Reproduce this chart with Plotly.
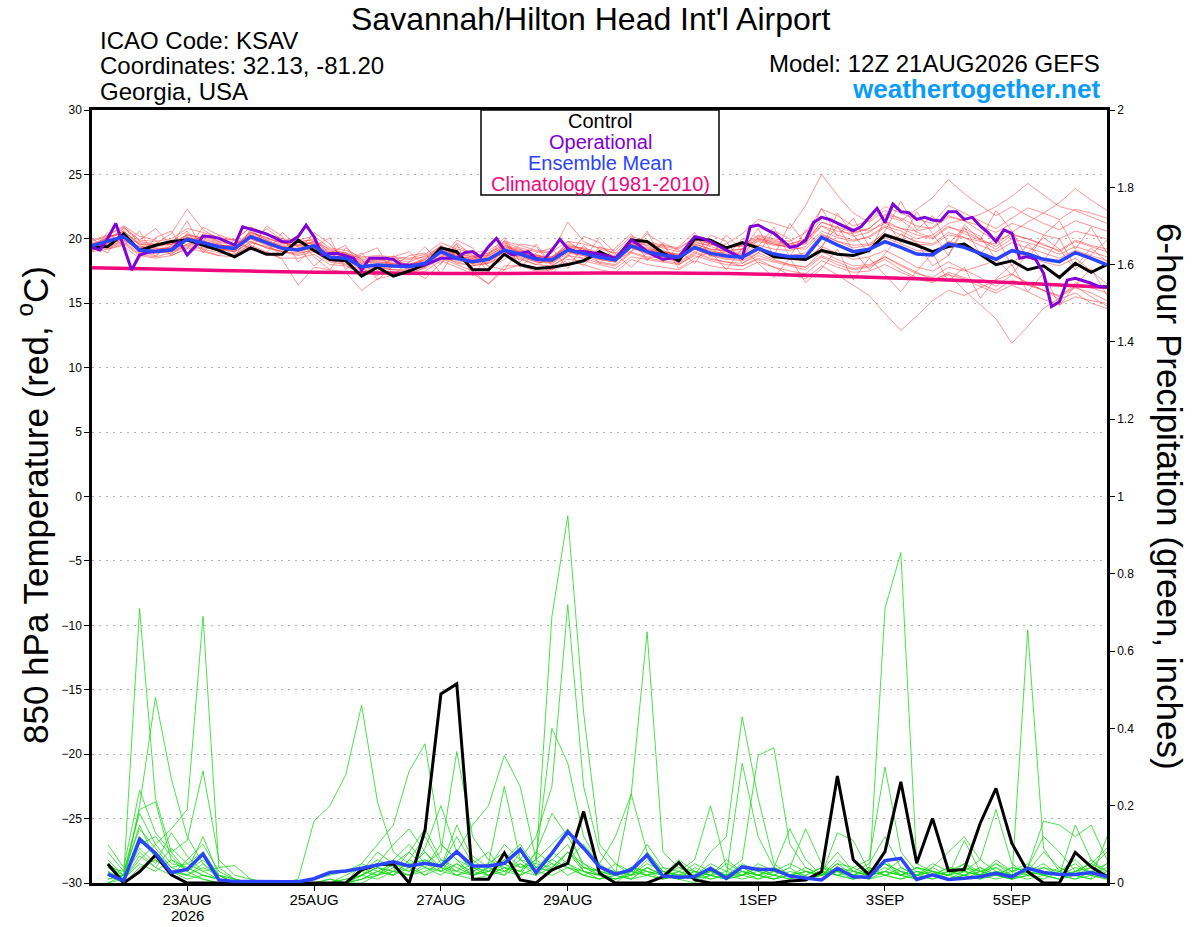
import pandas as pd
import plotly.graph_objects as go

# time axes: GEFS 6-hourly, operational GFS 3-hourly
times6 = pd.date_range("2026-08-21 12:00", periods=65, freq="6h")
times3 = pd.date_range("2026-08-21 12:00", periods=129, freq="3h")
times_clim = times6[::4]

tick_vals = ["2026-08-23", "2026-08-25", "2026-08-27", "2026-08-29",
             "2026-09-01", "2026-09-03", "2026-09-05"]
tick_text = ["23AUG", "25AUG", "27AUG", "29AUG", "1SEP", "3SEP", "5SEP"]
year_label = "2026"

# 850 hPa temperature (C)
control_t = [19.3, 19.4, 20.4, 19.1, 19.5, 19.8, 19.9, 19.5, 19.1, 18.6, 19.3, 18.8, 18.8,
             19.9, 19.1, 18.4, 18.3, 17.1, 17.8, 17.1, 17.5, 18.0, 19.3, 19.0, 17.6, 17.6,
             18.8, 18.0, 17.7, 17.8, 18.0, 18.3, 19.0, 18.4, 19.9, 19.8, 18.9, 18.3, 20.0,
             19.9, 19.3, 19.7, 19.3, 18.6, 18.5, 18.4, 19.1, 18.8, 18.7, 19.1, 20.3, 19.9,
             19.5, 19.0, 19.4, 19.6, 18.8, 18.0, 18.3, 17.6, 17.9, 17.0, 18.1, 17.4, 18.0]

operational_t = [19.34, 19.13, 20.04, 21.20, 19.39, 17.58, 18.75, 18.93, 19.01, 19.06, 19.13,
                 19.78, 18.75, 19.39, 20.22, 20.17, 20.04, 19.78, 19.52, 20.94, 20.74, 20.56,
                 20.38, 20.09, 19.78, 19.78, 20.17, 21.07, 20.17, 18.75, 18.87, 18.87, 18.67,
                 18.49, 17.58, 18.49, 18.49, 18.49, 18.41, 17.97, 17.97, 17.97, 17.97, 18.23,
                 18.49, 18.49, 18.49, 18.93, 19.01, 18.57, 19.39,
                 20.04, 19.13, 18.75, 18.87, 19.01, 18.49, 18.36, 19.13, 19.96, 19.26, 19.01,
                 19.01, 18.93, 18.82, 18.67, 18.49, 19.13, 19.91, 19.52, 19.01, 18.67, 18.41,
                 18.49, 18.57, 19.39, 20.17, 20.04, 19.78, 19.44, 19.13, 18.82, 18.49, 20.94,
                 21.07, 20.74, 20.43, 19.91,
                 19.34, 19.45, 19.91, 21.26, 21.67, 21.51, 21.20, 20.95, 20.63, 20.95, 21.67,
                 22.37, 21.26, 22.70, 22.11, 22.03, 21.51, 21.67, 21.46, 21.39, 22.11, 22.11,
                 21.51, 21.67, 21.00, 20.48, 19.78, 20.69, 20.43, 18.49, 18.62, 18.41, 17.32,
                 14.74, 15.12, 16.81, 16.94, 16.75, 16.55, 16.29, 16.29]

mean_t = [19.45, 19.78, 20.17, 19.13, 19.01, 19.13, 19.96, 19.70, 19.39, 19.26, 20.17, 19.70, 19.26,
          19.13, 19.45, 18.57, 18.49, 17.84, 17.97, 17.89, 17.84, 18.10, 19.01, 18.49, 18.23, 18.41,
          19.13, 18.82, 18.41, 18.36, 19.13, 18.87, 18.57, 18.36, 19.45, 19.01, 18.75, 18.57, 19.34,
          18.87, 18.67, 18.57, 19.26, 18.82, 18.62, 18.62, 20.12, 19.52, 19.00, 19.19, 19.78, 19.34,
          18.82, 18.75, 19.60, 19.34, 18.88, 18.41, 19.08, 18.82, 18.41, 18.23, 18.93, 18.49, 17.97]

climatology_t = [17.75, 17.65, 17.55, 17.45, 17.38, 17.32, 17.30, 17.32, 17.35,
                 17.35, 17.30, 17.20, 17.05, 16.90, 16.70, 16.48, 16.25]

members_t = [
    [19.2, 19.9, 20.6, 19.5, 19.0, 19.3, 20.4, 20.0, 19.6, 19.0, 20.5, 20.1, 19.6,
     19.8, 19.9, 18.9, 18.2, 17.5, 17.6, 17.4, 17.2, 17.8, 19.3, 18.8, 18.0, 18.2,
     19.0, 18.5, 18.0, 18.6, 19.6, 19.2, 18.7, 18.2, 19.7, 19.5, 19.1, 18.6, 19.8,
     19.4, 19.0, 18.8, 19.9, 19.6, 19.4, 19.8, 21.3, 20.8, 20.2, 20.5, 21.4, 20.8,
     20.3, 20.0, 20.9, 20.6, 20.0, 19.4, 20.3, 20.0, 19.6, 19.0, 19.8, 19.4, 19.0],
    [19.6, 19.5, 20.0, 19.4, 19.3, 18.8, 19.6, 19.9, 19.0, 19.5, 19.8, 19.3, 19.0,
     18.8, 19.2, 18.8, 18.8, 18.1, 18.4, 18.3, 18.0, 18.5, 19.2, 18.9, 18.6, 18.9,
     19.5, 19.2, 18.7, 18.5, 19.4, 19.3, 18.9, 18.7, 19.8, 19.6, 19.3, 19.0, 19.9,
     19.6, 19.3, 19.5, 20.3, 20.0, 19.8, 20.5, 22.3, 21.8, 21.0, 21.4, 22.5, 22.0,
     21.5, 21.2, 22.6, 22.0, 21.4, 20.8, 21.6, 22.4, 22.0, 21.5, 22.3, 22.0, 21.6],
    [19.4, 20.1, 20.5, 19.0, 18.7, 19.5, 20.2, 19.5, 19.1, 19.3, 20.6, 19.9, 19.4,
     19.5, 19.7, 18.7, 18.9, 18.2, 18.5, 18.0, 17.9, 18.4, 19.5, 18.6, 18.5, 18.8,
     19.6, 18.9, 18.8, 18.3, 19.8, 19.0, 18.9, 18.5, 20.1, 19.4, 19.0, 18.8, 19.7,
     19.5, 19.6, 20.4, 21.5, 21.2, 20.8, 22.6, 25.0, 23.4, 22.0, 21.3, 22.2, 21.5,
     20.5, 20.1, 21.0, 20.4, 19.9, 19.2, 20.0, 19.7, 19.3, 18.8, 19.4, 19.0, 18.6],
    [19.7, 19.4, 19.8, 18.9, 19.2, 19.0, 19.5, 19.3, 19.2, 19.0, 19.7, 19.4, 19.0,
     18.7, 19.0, 18.2, 18.0, 17.2, 17.8, 17.6, 17.5, 17.9, 18.6, 18.2, 17.9, 18.1,
     18.8, 18.6, 18.2, 18.1, 18.9, 18.7, 18.2, 18.0, 19.0, 18.6, 18.5, 18.2, 19.0,
     18.5, 18.2, 17.9, 18.4, 17.8, 17.2, 16.9, 17.9, 17.2, 16.4, 15.6, 14.2, 12.9,
     14.0, 15.2, 16.0, 15.6, 16.2, 16.8, 17.3, 16.5, 16.0, 15.5, 16.2, 15.8, 15.2],
    [19.3, 19.6, 20.3, 19.2, 19.1, 19.4, 20.1, 19.8, 19.5, 19.4, 20.3, 19.8, 19.3,
     19.0, 19.3, 18.4, 18.3, 17.6, 17.8, 17.8, 17.9, 18.2, 18.9, 18.3, 18.1, 18.3,
     18.9, 18.7, 18.3, 18.2, 19.0, 18.8, 18.4, 18.2, 19.3, 18.8, 18.6, 18.4, 19.2,
     18.7, 18.4, 18.3, 18.9, 18.4, 18.0, 17.8, 19.0, 18.4, 17.9, 18.0, 18.6, 18.0,
     17.4, 16.8, 17.3, 16.0, 14.9, 13.8, 11.9, 13.2, 14.6, 15.4, 16.6, 16.2, 15.8],
    [19.5, 19.9, 19.9, 19.3, 19.4, 19.6, 20.0, 19.6, 19.6, 19.2, 20.0, 19.5, 19.2,
     19.3, 19.6, 18.9, 18.6, 18.0, 17.9, 18.1, 17.6, 18.0, 18.8, 18.4, 18.4, 18.6,
     19.3, 19.0, 18.6, 18.6, 19.3, 19.0, 18.6, 18.5, 19.6, 19.2, 19.0, 18.7, 19.5,
     19.0, 18.9, 19.0, 19.8, 19.5, 19.4, 19.6, 21.0, 20.6, 20.4, 20.8, 21.8, 21.4,
     22.3, 23.2, 24.6, 23.5, 22.6, 21.8, 22.5, 21.8, 21.2, 20.7, 21.4, 21.0, 20.6],
    [19.1, 19.7, 20.2, 19.6, 19.3, 19.2, 19.8, 20.2, 19.8, 19.6, 20.2, 19.9, 19.5,
     19.6, 19.8, 19.0, 18.8, 18.3, 18.2, 18.2, 18.0, 18.3, 19.0, 18.7, 18.4, 18.5,
     19.2, 18.8, 18.5, 18.5, 19.2, 18.9, 18.7, 18.4, 19.5, 19.1, 18.9, 18.7, 19.4,
     19.1, 18.8, 18.8, 19.5, 19.2, 19.1, 19.4, 20.6, 20.1, 19.8, 20.2, 21.0, 20.6,
     20.0, 20.3, 21.2, 21.5, 21.9, 22.5, 23.3, 24.3, 23.4, 22.5, 22.2, 21.7, 21.2],
    [19.8, 20.2, 20.4, 19.7, 19.5, 19.7, 20.3, 19.9, 19.4, 19.5, 20.4, 20.0, 19.7,
     19.4, 19.8, 19.2, 18.9, 18.4, 18.3, 18.5, 18.4, 18.6, 19.3, 18.8, 18.6, 18.7,
     19.4, 19.0, 18.6, 18.4, 19.5, 19.2, 18.8, 18.6, 19.7, 19.2, 18.9, 18.6, 19.6,
     19.2, 19.1, 19.2, 20.0, 19.6, 19.3, 19.2, 20.4, 19.8, 19.5, 19.6, 20.4, 20.0,
     19.6, 19.5, 20.3, 20.1, 19.8, 19.6, 20.5, 21.3, 22.0, 22.8, 23.9, 23.0, 22.2],
    [19.5, 19.3, 19.7, 18.8, 18.6, 18.9, 19.4, 19.2, 18.9, 18.8, 19.5, 19.0, 18.4,
     16.4, 17.8, 17.6, 17.4, 16.0, 16.9, 17.2, 17.4, 17.7, 18.5, 18.0, 17.5, 16.5,
     17.6, 18.0, 17.8, 17.6, 18.4, 18.3, 18.0, 17.7, 18.6, 18.4, 18.2, 18.0, 18.7,
     18.3, 18.0, 17.9, 18.5, 18.2, 17.9, 17.6, 18.6, 18.0, 17.6, 17.8, 18.4, 17.6,
     17.0, 16.7, 17.4, 17.0, 16.5, 16.0, 16.8, 16.4, 16.0, 15.6, 16.3, 15.5, 14.8],
    [19.6, 20.0, 20.8, 19.8, 19.6, 20.4, 22.3, 20.7, 20.0, 19.9, 20.9, 20.4, 19.8,
     19.7, 20.0, 19.1, 18.9, 18.5, 18.6, 18.4, 18.2, 18.7, 19.4, 19.0, 18.7, 18.9,
     19.7, 19.3, 19.0, 18.9, 21.3, 19.8, 19.2, 18.9, 20.0, 19.7, 19.4, 19.2, 20.1,
     19.6, 19.4, 19.5, 20.2, 19.9, 19.6, 19.9, 21.0, 20.3, 19.9, 20.1, 20.9, 20.3,
     19.8, 19.6, 20.5, 20.1, 19.5, 19.0, 19.7, 19.3, 18.9, 18.5, 19.1, 18.7, 18.3],
    [19.2, 19.6, 20.1, 19.0, 18.9, 19.1, 19.9, 19.6, 19.3, 19.1, 20.0, 19.6, 19.1,
     19.1, 19.3, 18.5, 18.4, 17.7, 17.9, 17.9, 17.8, 18.0, 18.9, 18.4, 18.1, 18.4,
     19.0, 18.7, 18.2, 18.2, 19.0, 18.7, 18.4, 18.2, 19.3, 18.9, 18.6, 18.4, 19.2,
     18.7, 18.5, 18.4, 19.1, 18.6, 18.4, 18.3, 19.4, 18.9, 18.4, 18.6, 19.1, 18.5,
     17.8, 17.5, 18.2, 17.6, 17.0, 16.3, 17.2, 16.6, 16.0, 15.3, 15.8, 15.0, 14.6],
    [19.4, 19.8, 20.3, 19.3, 19.2, 19.3, 20.1, 19.8, 19.5, 19.3, 20.3, 19.8, 19.4,
     19.2, 19.6, 18.6, 18.6, 17.9, 18.1, 18.0, 17.9, 18.2, 19.1, 18.6, 18.3, 18.5,
     19.1, 18.9, 18.5, 18.4, 19.1, 18.9, 18.6, 18.4, 19.4, 19.0, 18.8, 18.6, 19.3,
     18.9, 18.7, 18.6, 19.3, 18.9, 18.7, 18.9, 20.3, 19.8, 19.3, 19.5, 20.1, 19.6,
     19.1, 19.0, 19.8, 19.5, 19.0, 18.5, 19.2, 18.9, 18.4, 18.2, 18.9, 18.4, 17.9],
    [19.0, 19.2, 19.6, 18.7, 18.5, 18.7, 19.3, 19.0, 18.7, 18.6, 19.4, 18.9, 18.5,
     18.5, 18.8, 18.0, 17.9, 17.3, 17.4, 17.3, 17.2, 17.5, 18.3, 17.8, 17.3, 16.5,
     17.9, 17.9, 17.5, 17.6, 18.2, 18.0, 17.6, 17.4, 18.4, 18.0, 17.8, 17.6, 18.3,
     17.9, 17.7, 17.6, 18.2, 17.8, 17.5, 17.3, 18.3, 17.8, 17.4, 17.5, 18.0, 17.4,
     16.9, 16.6, 17.2, 16.9, 16.3, 15.8, 16.4, 15.9, 15.3, 14.9, 15.5, 15.2, 15.0],
    [19.9, 20.3, 20.9, 19.9, 19.8, 20.0, 20.8, 20.5, 20.1, 19.9, 20.9, 20.4, 20.0,
     19.9, 20.2, 19.3, 19.1, 18.6, 18.7, 18.6, 18.5, 18.8, 19.7, 19.2, 18.9, 19.1,
     19.8, 19.5, 19.1, 19.0, 19.8, 19.6, 19.3, 19.1, 20.2, 19.8, 19.5, 19.3, 20.1,
     19.6, 19.4, 19.4, 20.1, 19.7, 19.5, 19.7, 21.3, 20.9, 20.5, 20.8, 21.9, 21.6,
     21.0, 20.8, 21.7, 21.4, 21.0, 20.5, 21.2, 20.8, 20.3, 20.0, 20.6, 20.3, 20.0],
    [19.3, 19.4, 19.9, 19.1, 18.9, 19.0, 19.6, 19.5, 19.2, 19.0, 19.8, 19.3, 19.0,
     18.9, 19.1, 18.3, 18.1, 17.4, 17.7, 17.6, 17.6, 17.8, 18.7, 18.1, 17.9, 18.1,
     18.7, 18.4, 18.0, 17.9, 18.7, 18.5, 18.1, 17.9, 18.9, 18.5, 18.3, 18.1, 18.9,
     18.4, 18.2, 18.1, 18.7, 18.3, 18.0, 17.8, 18.7, 18.2, 17.7, 17.9, 18.6, 17.9,
     17.3, 17.0, 17.8, 17.5, 17.9, 18.3, 19.0, 18.6, 18.2, 17.9, 18.5, 17.5, 16.5],
    [19.6, 20.1, 20.6, 19.6, 19.5, 19.6, 20.3, 20.1, 19.7, 19.6, 20.5, 20.1, 19.7,
     19.5, 19.7, 18.8, 18.7, 18.1, 18.2, 18.1, 18.0, 18.4, 19.2, 18.7, 18.5, 18.7,
     19.4, 19.1, 18.7, 18.6, 19.4, 19.1, 18.8, 18.6, 19.6, 19.3, 19.0, 18.8, 19.6,
     19.2, 19.0, 19.2, 20.0, 19.8, 19.6, 20.0, 21.6, 21.2, 20.8, 20.6, 21.2, 20.8,
     20.6, 20.9, 21.8, 21.4, 20.6, 19.8, 20.4, 20.0, 19.5, 19.1, 19.9, 19.5, 19.2],
    [19.0, 20.3, 21.0, 20.2, 19.9, 18.7, 19.2, 20.9, 20.3, 18.8, 19.6, 20.8, 19.9,
     19.0, 20.5, 19.6, 18.2, 18.9, 17.5, 18.6, 19.0, 17.9, 18.5, 19.9, 19.3, 17.8,
     18.4, 19.6, 19.4, 17.9, 18.6, 20.2, 19.7, 18.3, 19.0, 20.4, 19.6, 18.0, 18.8,
     20.3, 19.8, 18.1, 18.9, 20.6, 20.0, 18.3, 19.4, 21.0, 19.1, 17.6, 18.8, 20.4,
     19.7, 17.9, 18.7, 20.8, 20.2, 18.4, 17.2, 18.9, 20.1, 19.2, 17.6, 18.8, 19.9],
    [20.0, 19.2, 19.5, 20.6, 18.6, 19.8, 20.6, 18.9, 20.3, 19.9, 19.1, 21.0, 20.2,
     18.2, 19.4, 20.1, 17.6, 18.8, 19.3, 17.2, 18.2, 19.4, 18.0, 19.6, 17.1, 18.8,
     20.1, 18.2, 19.6, 18.0, 19.2, 18.4, 20.1, 18.9, 19.0, 20.6, 18.2, 19.4, 20.5,
     18.6, 20.3, 19.1, 20.8, 18.7, 21.2, 19.6, 22.4, 20.2, 21.6, 19.4, 20.6, 22.9,
     20.7, 21.8, 19.6, 20.9, 18.8, 20.2, 17.9, 19.6, 18.3, 20.0, 17.8, 19.3, 18.2],
    [19.5, 18.9, 20.9, 19.9, 20.8, 19.5, 21.4, 19.1, 18.7, 20.0, 19.2, 18.9, 20.5,
     19.4, 17.9, 18.9, 19.5, 17.7, 17.1, 18.7, 17.7, 16.9, 18.1, 19.7, 18.7, 17.9,
     17.6, 19.2, 18.4, 17.2, 18.8, 17.9, 19.4, 18.8, 17.8, 18.9, 19.6, 17.7, 18.5,
     19.0, 17.6, 19.3, 18.1, 17.0, 18.5, 16.6, 17.7, 19.2, 16.8, 18.5, 17.2, 15.9,
     17.5, 18.9, 16.7, 17.8, 15.4, 16.9, 18.0, 15.9, 17.3, 14.8, 16.4, 17.7, 15.6],
    [19.1, 20.5, 19.4, 18.5, 20.1, 20.6, 18.8, 20.4, 19.8, 18.5, 20.8, 19.6, 18.7,
     20.0, 18.6, 17.6, 19.3, 18.4, 16.8, 17.9, 18.7, 18.9, 17.3, 19.4, 18.9, 17.4,
     19.9, 17.8, 18.9, 19.3, 17.7, 19.5, 18.1, 19.3, 20.4, 18.3, 19.7, 19.1, 18.1,
     19.8, 18.6, 20.0, 19.4, 20.9, 18.6, 20.7, 19.2, 22.0, 20.3, 18.9, 21.5, 19.7,
     22.1, 20.4, 18.7, 21.1, 19.9, 22.2, 20.6, 18.4, 20.3, 21.4, 19.2, 20.9, 18.9],
]

# 6-hour precipitation (inches), from the first 6 h step onwards
control_p = [0.049, 0.0, 0.029, 0.072, 0.021, 0.0, 0.0, 0.0,
             0.0, 0.0, 0.0, 0.0, 0.0, 0.0, 0.0, 0.0,
             0.034, 0.047, 0.049, 0.0, 0.137, 0.489, 0.515, 0.01,
             0.01, 0.078, 0.008, 0.0, 0.034, 0.051, 0.185, 0.025,
             0.0, 0.0, 0.0, 0.016, 0.053, 0.008, 0.0, 0.0,
             0.0, 0.0, 0.0, 0.005, 0.008, 0.029, 0.277, 0.06,
             0.021, 0.081, 0.262, 0.051, 0.167, 0.032, 0.035, 0.154,
             0.245, 0.103, 0.029, 0.0, 0.0, 0.079, 0.042, 0.016]

mean_p = [0.023, 0.006, 0.113, 0.077, 0.027, 0.035, 0.075, 0.008,
          0.004, 0.003, 0.003, 0.003, 0.003, 0.011, 0.027, 0.031,
          0.038, 0.047, 0.055, 0.044, 0.051, 0.044, 0.081, 0.044,
          0.044, 0.051, 0.087, 0.027, 0.077, 0.133, 0.090, 0.042,
          0.023, 0.034, 0.072, 0.018, 0.015, 0.016, 0.038, 0.012,
          0.042, 0.035, 0.035, 0.018, 0.012, 0.008, 0.038, 0.016,
          0.015, 0.058, 0.064, 0.009, 0.021, 0.009, 0.012, 0.016,
          0.025, 0.016, 0.038, 0.027, 0.022, 0.022, 0.027, 0.016]

members_p = [
    [0.05, 0.02, 0.71, 0.22, 0.08, 0.03, 0.01, 0.0, 0, 0, 0, 0, 0, 0, 0, 0,
     0, 0.02, 0.05, 0.08, 0.04, 0.10, 0.06, 0.02, 0.03, 0.05, 0.02, 0.08, 0.18, 0.12, 0.05, 0.02,
     0, 0.03, 0.10, 0.04, 0.01, 0, 0.02, 0.06, 0.03, 0.01, 0.02, 0.04, 0.01, 0.02, 0.05, 0.02,
     0.01, 0.71, 0.855, 0.05, 0.03, 0.01, 0.02, 0.04, 0.02, 0.01, 0.03, 0.05, 0.02, 0.01, 0.03, 0.02],
    [0.02, 0.0, 0.20, 0.48, 0.27, 0.12, 0.05, 0.02, 0.01, 0, 0, 0, 0, 0, 0, 0,
     0.02, 0.04, 0.02, 0.06, 0.12, 0.05, 0.03, 0.07, 0.04, 0.10, 0.06, 0.12, 0.25, 0.72, 0.25, 0.08,
     0.03, 0.01, 0.04, 0.02, 0.06, 0.03, 0.01, 0.02, 0.31, 0.12, 0.04, 0.02, 0.01, 0.03, 0.08, 0.03,
     0.02, 0.05, 0.03, 0.01, 0.04, 0.02, 0.01, 0.03, 0.05, 0.02, 0.01, 0.02, 0.04, 0.02, 0.06, 0.03],
    [0.0, 0.01, 0.06, 0.10, 0.14, 0.19, 0.69, 0.04, 0.01, 0, 0, 0, 0, 0, 0.01, 0,
     0.03, 0.08, 0.05, 0.03, 0.09, 0.20, 0.08, 0.03, 0.02, 0.04, 0.03, 0.06, 0.10, 0.14, 0.04, 0.02,
     0.05, 0.02, 0.08, 0.03, 0.02, 0.01, 0.03, 0.02, 0.05, 0.03, 0.02, 0.01, 0.02, 0.04, 0.02, 0.01,
     0.03, 0.06, 0.02, 0.01, 0.02, 0.03, 0.05, 0.02, 0.04, 0.01, 0.655, 0.09, 0.03, 0.06, 0.02, 0.05],
    [0.10, 0.04, 0.24, 0.13, 0.08, 0.11, 0.29, 0.06, 0.02, 0.01, 0, 0, 0.01, 0.16, 0.20, 0.28,
     0.46, 0.21, 0.08, 0.05, 0.06, 0.04, 0.12, 0.05, 0.08, 0.03, 0.05, 0.02, 0.04, 0.08, 0.03, 0.01,
     0.02, 0.04, 0.03, 0.01, 0.02, 0.05, 0.03, 0.01, 0.02, 0.04, 0.03, 0.02, 0.01, 0.03, 0.02, 0.04,
     0.02, 0.03, 0.06, 0.02, 0.01, 0.02, 0.03, 0.06, 0.03, 0.02, 0.04, 0.12, 0.08, 0.03, 0.05, 0.09],
    [0.03, 0.01, 0.12, 0.08, 0.04, 0.02, 0.05, 0.01, 0, 0, 0, 0, 0, 0, 0, 0.01,
     0.02, 0.05, 0.10, 0.14, 0.08, 0.04, 0.15, 0.06, 0.03, 0.06, 0.04, 0.05, 0.69, 0.95, 0.44, 0.10,
     0.05, 0.03, 0.02, 0.04, 0.03, 0.02, 0.08, 0.12, 0.43, 0.22, 0.05, 0.02, 0.03, 0.02, 0.04, 0.02,
     0.01, 0.03, 0.02, 0.04, 0.02, 0.01, 0.02, 0.03, 0.02, 0.01, 0.02, 0.04, 0.03, 0.02, 0.01, 0.03],
    [0.0, 0.02, 0.15, 0.06, 0.03, 0.02, 0.04, 0.02, 0, 0, 0, 0, 0, 0, 0, 0,
     0.05, 0.03, 0.02, 0.04, 0.02, 0.06, 0.03, 0.02, 0.04, 0.02, 0.08, 0.04, 0.03, 0.06, 0.10, 0.05,
     0.12, 0.23, 0.65, 0.08, 0.04, 0.02, 0.05, 0.03, 0.06, 0.33, 0.35, 0.10, 0.04, 0.02, 0.03, 0.02,
     0.04, 0.02, 0.03, 0.02, 0.05, 0.03, 0.02, 0.01, 0.03, 0.02, 0.04, 0.02, 0.03, 0.05, 0.02, 0.04],
    [0.04, 0.03, 0.18, 0.10, 0.05, 0.04, 0.02, 0.01, 0, 0, 0, 0, 0, 0.01, 0.02, 0.03,
     0.05, 0.10, 0.15, 0.29, 0.36, 0.10, 0.06, 0.04, 0.02, 0.05, 0.03, 0.08, 0.05, 0.04, 0.02, 0.01,
     0.03, 0.02, 0.04, 0.02, 0.01, 0.03, 0.02, 0.01, 0.04, 0.02, 0.01, 0.02, 0.03, 0.02, 0.05, 0.04,
     0.06, 0.30, 0.08, 0.03, 0.02, 0.04, 0.03, 0.02, 0.05, 0.03, 0.02, 0.01, 0.03, 0.02, 0.04, 0.02],
    [0.06, 0.02, 0.09, 0.05, 0.13, 0.07, 0.03, 0.04, 0.045, 0.01, 0, 0, 0, 0, 0.01, 0,
     0.03, 0.06, 0.04, 0.02, 0.05, 0.08, 0.34, 0.12, 0.06, 0.04, 0.02, 0.04, 0.06, 0.10, 0.03, 0.02,
     0.01, 0.02, 0.03, 0.02, 0.04, 0.03, 0.02, 0.05, 0.03, 0.02, 0.04, 0.14, 0.06, 0.02, 0.13, 0.11,
     0.03, 0.02, 0.04, 0.02, 0.01, 0.03, 0.02, 0.04, 0.02, 0.04, 0.03, 0.02, 0.01, 0.03, 0.02, 0.01],
    [0.01, 0.02, 0.08, 0.04, 0.02, 0.06, 0.10, 0.03, 0.01, 0, 0, 0, 0, 0, 0, 0,
     0.01, 0.03, 0.02, 0.06, 0.04, 0.02, 0.05, 0.03, 0.05, 0.08, 0.04, 0.06, 0.40, 0.31, 0.12, 0.05,
     0.02, 0.04, 0.02, 0.01, 0.03, 0.06, 0.20, 0.04, 0.02, 0.04, 0.02, 0.01, 0.03, 0.02, 0.04, 0.03,
     0.02, 0.05, 0.03, 0.02, 0.04, 0.08, 0.12, 0.06, 0.19, 0.05, 0.02, 0.03, 0.02, 0.04, 0.03, 0.02],
    [0.02, 0.01, 0.05, 0.03, 0.06, 0.04, 0.02, 0.01, 0, 0, 0, 0, 0, 0, 0, 0.02,
     0.04, 0.02, 0.06, 0.10, 0.05, 0.03, 0.08, 0.15, 0.20, 0.33, 0.25, 0.06, 0.03, 0.05, 0.02, 0.04,
     0.03, 0.02, 0.05, 0.03, 0.02, 0.01, 0.02, 0.03, 0.02, 0.03, 0.02, 0.04, 0.14, 0.05, 0.02, 0.03,
     0.02, 0.03, 0.02, 0.04, 0.03, 0.02, 0.11, 0.03, 0.02, 0.03, 0.04, 0.16, 0.15, 0.12, 0.15, 0.06],
    [0.03, 0.0, 0.11, 0.07, 0.03, 0.02, 0.01, 0, 0, 0, 0, 0, 0, 0, 0, 0,
     0.02, 0.01, 0.03, 0.02, 0.04, 0.03, 0.02, 0.01, 0.02, 0.03, 0.02, 0.04, 0.03, 0.08, 0.05, 0.03,
     0.02, 0.01, 0.02, 0.03, 0.01, 0.02, 0.01, 0.02, 0.01, 0.02, 0.01, 0.02, 0.01, 0.02, 0.03, 0.02,
     0.01, 0.02, 0.01, 0.03, 0.02, 0.01, 0.02, 0.01, 0.02, 0.01, 0.02, 0.03, 0.02, 0.01, 0.02, 0.01],
    [0.08, 0.03, 0.14, 0.09, 0.04, 0.05, 0.08, 0.02, 0.01, 0, 0, 0, 0, 0, 0, 0.01,
     0.02, 0.04, 0.03, 0.08, 0.14, 0.06, 0.04, 0.02, 0.03, 0.06, 0.10, 0.04, 0.08, 0.05, 0.03, 0.02,
     0.01, 0.02, 0.06, 0.02, 0.01, 0.02, 0.03, 0.02, 0.04, 0.02, 0.03, 0.05, 0.03, 0.02, 0.06, 0.03,
     0.05, 0.12, 0.04, 0.02, 0.03, 0.02, 0.04, 0.02, 0.06, 0.03, 0.05, 0.02, 0.01, 0.03, 0.04, 0.08],
    [0.01, 0.02, 0.19, 0.21, 0.06, 0.03, 0.12, 0.02, 0, 0, 0, 0, 0, 0, 0, 0,
     0.03, 0.02, 0.04, 0.03, 0.06, 0.04, 0.02, 0.03, 0.05, 0.25, 0.06, 0.03, 0.05, 0.02, 0.04, 0.03,
     0.02, 0.04, 0.03, 0.02, 0.01, 0.04, 0.02, 0.01, 0.03, 0.02, 0.04, 0.02, 0.01, 0.02, 0.03, 0.02,
     0.04, 0.02, 0.01, 0.02, 0.03, 0.02, 0.05, 0.03, 0.02, 0.04, 0.03, 0.08, 0.04, 0.02, 0.03, 0.05],
    [0.05, 0.01, 0.07, 0.04, 0.09, 0.05, 0.03, 0.01, 0, 0, 0, 0, 0, 0, 0, 0,
     0.01, 0.02, 0.03, 0.05, 0.02, 0.04, 0.03, 0.05, 0.02, 0.04, 0.03, 0.02, 0.06, 0.04, 0.02, 0.01,
     0.02, 0.23, 0.08, 0.03, 0.02, 0.01, 0.03, 0.02, 0.02, 0.05, 0.03, 0.02, 0.04, 0.02, 0.03, 0.01,
     0.02, 0.04, 0.02, 0.03, 0.02, 0.04, 0.03, 0.02, 0.03, 0.02, 0.04, 0.03, 0.02, 0.15, 0.06, 0.02],
    [0.02, 0.0, 0.04, 0.06, 0.03, 0.01, 0.02, 0.01, 0, 0, 0, 0, 0, 0, 0, 0,
     0.02, 0.04, 0.03, 0.02, 0.03, 0.05, 0.02, 0.04, 0.03, 0.02, 0.05, 0.03, 0.02, 0.04, 0.03, 0.02,
     0.01, 0.03, 0.02, 0.01, 0.02, 0.03, 0.02, 0.01, 0.02, 0.01, 0.03, 0.02, 0.01, 0.03, 0.02, 0.01,
     0.02, 0.03, 0.02, 0.01, 0.02, 0.01, 0.03, 0.02, 0.01, 0.02, 0.03, 0.02, 0.01, 0.02, 0.01, 0.12],
    [0.04, 0.02, 0.10, 0.12, 0.07, 0.03, 0.06, 0.02, 0, 0, 0, 0, 0, 0, 0, 0,
     0.01, 0.03, 0.05, 0.04, 0.08, 0.03, 0.05, 0.02, 0.04, 0.03, 0.06, 0.05, 0.04, 0.08, 0.04, 0.03,
     0.02, 0.01, 0.04, 0.02, 0.03, 0.01, 0.04, 0.02, 0.03, 0.02, 0.01, 0.03, 0.02, 0.04, 0.03, 0.02,
     0.03, 0.05, 0.02, 0.04, 0.03, 0.02, 0.04, 0.03, 0.04, 0.02, 0.03, 0.04, 0.02, 0.03, 0.05, 0.03],
]

FONT = "Liberation Sans, Arial, sans-serif"
RED = "rgba(255, 40, 40, 0.55)"
GREEN = "rgba(20, 215, 20, 0.85)"
BLACK = "#000000"
PURPLE = "#8000d8"
BLUE = "#2a44ff"
PINK = "#f0087c"

fig = go.Figure()

# ensemble members: temperature (left axis) then precipitation (right axis)
for m in members_t:
    fig.add_trace(go.Scatter(x=times6, y=m, mode="lines", line=dict(color=RED, width=0.9),
                             yaxis="y", hoverinfo="skip"))
for m in members_p:
    fig.add_trace(go.Scatter(x=times6[1:], y=m, mode="lines", line=dict(color=GREEN, width=0.9),
                             yaxis="y2", hoverinfo="skip"))

fig.add_trace(go.Scatter(x=times_clim, y=climatology_t, mode="lines",
                         line=dict(color=PINK, width=3.5, shape="spline"), yaxis="y"))
fig.add_trace(go.Scatter(x=times6, y=control_t, mode="lines", line=dict(color=BLACK, width=3), yaxis="y"))
fig.add_trace(go.Scatter(x=times3, y=operational_t, mode="lines", line=dict(color=PURPLE, width=3), yaxis="y"))
fig.add_trace(go.Scatter(x=times6, y=mean_t, mode="lines", line=dict(color=BLUE, width=3.5), yaxis="y"))

fig.add_trace(go.Scatter(x=times6[1:], y=control_p, mode="lines", line=dict(color=BLACK, width=3), yaxis="y2"))
fig.add_trace(go.Scatter(x=times6[1:], y=mean_p, mode="lines", line=dict(color=BLUE, width=3.5), yaxis="y2"))

W, H = 1200, 927
# plot area in page pixels: x 92..1107, y 110..883
X0, X1, Y0, Y1 = 92, 1107, 110, 883
pw, ph = X1 - X0, Y1 - Y0


def px(x):
    return (x - X0) / pw


def py(y):
    return (Y1 - y) / ph


annotations = [
    dict(text="Savannah/Hilton Head Int'l Airport", x=px(590), y=py(19), font=dict(size=32)),
    dict(text="ICAO Code: KSAV", x=px(98), y=py(41), xanchor="left", font=dict(size=24)),
    dict(text="Coordinates: 32.13, -81.20", x=px(98), y=py(66), xanchor="left", font=dict(size=24)),
    dict(text="Georgia, USA", x=px(98), y=py(92), xanchor="left", font=dict(size=24)),
    dict(text="Model: 12Z 21AUG2026 GEFS", x=px(1102), y=py(63), xanchor="right", font=dict(size=24)),
    dict(text="<b>weathertogether.net</b>", x=px(1102), y=py(89), xanchor="right",
         font=dict(size=26, color="#0a9cf8")),
    dict(text="Control", x=px(600), y=py(121), font=dict(size=20, color=BLACK)),
    dict(text="Operational", x=px(600), y=py(142), font=dict(size=20, color=PURPLE)),
    dict(text="Ensemble Mean", x=px(600), y=py(163), font=dict(size=20, color=BLUE)),
    dict(text="Climatology (1981-2010)", x=px(600), y=py(184), font=dict(size=20, color=PINK)),
    dict(text="850 hPa Temperature (red, <sup>o</sup>C)", x=px(33), y=py(505), textangle=-90,
         font=dict(size=35)),
    dict(text="6-hour Precipitation (green, inches)", x=px(1170), y=py(496), textangle=90,
         font=dict(size=35)),
]
for a in annotations:
    a.update(xref="paper", yref="paper", showarrow=False)
    a.setdefault("xanchor", "center")
    a["yanchor"] = "middle"
    a["font"].setdefault("color", "black")
    a["font"]["family"] = FONT

# year under the first date tick
annotations.append(dict(text=year_label, xref="x", yref="paper", x=tick_vals[0], y=py(915),
                        showarrow=False, xanchor="center", yanchor="middle",
                        font=dict(family=FONT, size=15, color="black")))

fig.update_layout(
    width=W, height=H,
    margin=dict(l=X0, r=W - X1, t=Y0, b=H - Y1),
    paper_bgcolor="white", plot_bgcolor="white",
    showlegend=False,
    font=dict(family=FONT, size=12, color="black"),
    annotations=annotations,
    shapes=[dict(type="rect", xref="paper", yref="paper",
                 x0=px(481), x1=px(719), y0=py(195), y1=1.0,
                 line=dict(color="black", width=1.5), fillcolor="white", layer="above")],
    xaxis=dict(
        type="date", range=[times6[0], times6[-1]],
        tickvals=tick_vals, ticktext=tick_text,
        ticks="outside", ticklen=5, tickwidth=1, tickcolor="black",
        tickfont=dict(size=15), ticklabelstandoff=-4, automargin=False,
        showgrid=False, zeroline=False,
        showline=True, linecolor="black", linewidth=2.5, mirror=True,
    ),
    yaxis=dict(
        range=[-30, 30], dtick=5, tick0=-30,
        ticks="outside", ticklen=5, tickcolor="black",
        tickfont=dict(size=12), automargin=False,
        showgrid=True, gridcolor="#b0b0b0", gridwidth=1, griddash="2px,5px",
        zeroline=False,
        showline=True, linecolor="black", linewidth=2.5, mirror=True,
    ),
    yaxis2=dict(
        range=[0, 2], dtick=0.2, tick0=0,
        overlaying="y", side="right",
        ticks="outside", ticklen=5, tickcolor="black",
        tickfont=dict(size=12), automargin=False,
        showgrid=False, zeroline=False,
        showline=True, linecolor="black", linewidth=2.5,
    ),
)

# drop the browser's default 8px body margin so the figure fills the 1200x927 window
fig.write_html("out.html", config={"displayModeBar": False},
               post_script="document.body.style.margin='0px';")
